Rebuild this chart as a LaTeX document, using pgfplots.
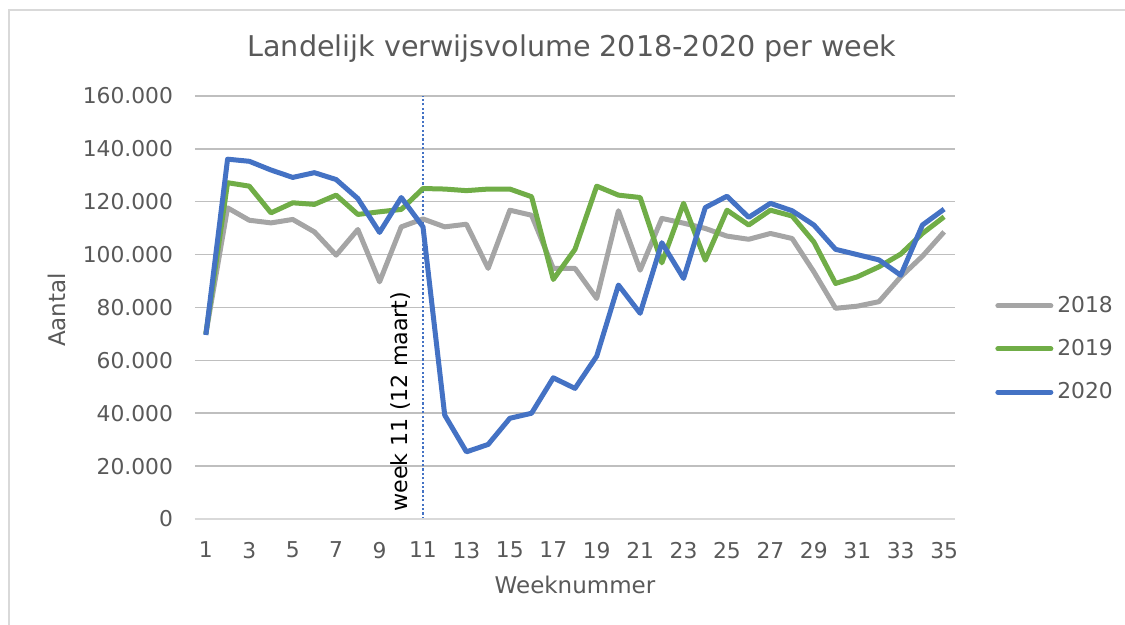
\documentclass[border=0pt]{standalone}
\usepackage{pgfplots}
\pgfplotsset{compat=1.18}
\usepackage{fontspec}
\setmainfont{DejaVu Sans}
\definecolor{c18}{HTML}{A5A5A5}
\definecolor{c19}{HTML}{70AD47}
\definecolor{c20}{HTML}{4472C4}
\definecolor{txt}{HTML}{595959}
\definecolor{grid}{HTML}{D9D9D9}
\begin{document}
\begin{tikzpicture}
\useasboundingbox (-97.5pt,-53pt) rectangle (465pt,259.5pt);
\draw[grid, line width=1pt] (-93pt,-53pt) -- (-93pt,254.5pt) -- (465pt,254.5pt);
\begin{axis}[
  at={(0,0)}, anchor=south west,
  scale only axis, width=380pt, height=211.5pt,
  xmin=0.5, xmax=35.5, ymin=0, ymax=160000,
  xtick={1,3,...,35}, ytick={0,20000,...,160000},
  scaled y ticks=false, scaled x ticks=false,
  xticklabels={1,3,5,7,9,11,13,15,17,19,21,23,25,27,29,31,33,35},
  yticklabels={0,20.000,40.000,60.000,80.000,100.000,120.000,140.000,160.000},
  ymajorgrids, xmajorgrids=false, grid style={grid, line width=0.75pt},
  axis lines*=left,
  axis line style={draw=none},
  tick style={draw=none},
  tick label style={font=\fontsize{10.9}{12}\selectfont, text=txt},
  xticklabel style={yshift=-8pt},
  yticklabel style={xshift=-7.5pt},
  title={Landelijk verwijsvolume 2018-2020 per week},
  title style={font=\fontsize{14.3}{16}\selectfont, text=txt, at={(axis description cs:0.496,1.083)}, anchor=center},
  xlabel={Weeknummer}, ylabel={Aantal},
  xlabel style={font=\fontsize{11.5}{13}\selectfont, text=txt, at={(axis description cs:0.5,-0.156)}, anchor=center},
  ylabel style={font=\fontsize{11.5}{13}\selectfont, text=txt, at={(axis description cs:-0.1816,0.494)}, anchor=center},
  legend style={draw=none, fill=none, at={(axis description cs:1.0526,0.402)}, anchor=west, font=\fontsize{10.9}{12}\selectfont, text=txt, row sep=8pt, inner sep=0pt, cells={anchor=west}},
  legend image code/.code={\draw[#1, line cap=round] (0pt,0pt) -- (26.5pt,0pt);},
  every axis plot/.append style={line width=2.5pt, no markers, line join=round},
  clip=false,
]
\draw[c20, line width=1.2pt, dash pattern=on 1.1pt off 1.1pt] (axis cs:11,0) -- (axis cs:11,160000);
\addplot[c18] coordinates {
(1,70000)(2,117700)(3,113000)(4,112000)(5,113300)(6,108600)(7,99800)(8,109500)(9,89700)(10,110500)
(11,113500)(12,110500)(13,111500)(14,94800)(15,116800)(16,114900)(17,94800)(18,94800)(19,83400)(20,116600)
(21,94100)(22,113700)(23,111900)(24,109900)(25,107000)(26,105800)(27,108000)(28,106100)(29,93500)(30,79700)
(31,80500)(32,82200)(33,91600)(34,99400)(35,108600)};
\addlegendentry{2018}
\addplot[c19] coordinates {
(1,70000)(2,127200)(3,125900)(4,115800)(5,119600)(6,119000)(7,122500)(8,115200)(9,116200)(10,117100)
(11,125000)(12,124800)(13,124200)(14,124800)(15,124800)(16,121900)(17,90600)(18,102000)(19,125900)(20,122500)
(21,121600)(22,96900)(23,119400)(24,97900)(25,116800)(26,111200)(27,116800)(28,114600)(29,104800)(30,89100)
(31,91600)(32,95400)(33,100200)(34,108000)(35,114300)};
\addlegendentry{2019}
\addplot[c20] coordinates {
(1,69600)(2,136100)(3,135300)(4,132000)(5,129200)(6,131000)(7,128400)(8,121200)(9,108400)(10,121600)
(11,110500)(12,39300)(13,25400)(14,28200)(15,38100)(16,40000)(17,53400)(18,49400)(19,61600)(20,88500)
(21,77800)(22,104500)(23,91000)(24,117800)(25,122100)(26,114100)(27,119400)(28,116600)(29,111200)(30,102000)
(31,100000)(32,98000)(33,92200)(34,111200)(35,117200)};
\addlegendentry{2020}
\draw[grid, line width=0.75pt] (axis cs:0.5,0) -- (axis cs:35.5,0);
\node[rotate=90, anchor=south west, inner sep=0pt, font=\fontsize{11.1}{13}\selectfont, text=black] at ([xshift=-6pt,yshift=3.5pt]axis cs:11,0) {week 11 (12 maart)};
\end{axis}
\end{tikzpicture}
\end{document}
